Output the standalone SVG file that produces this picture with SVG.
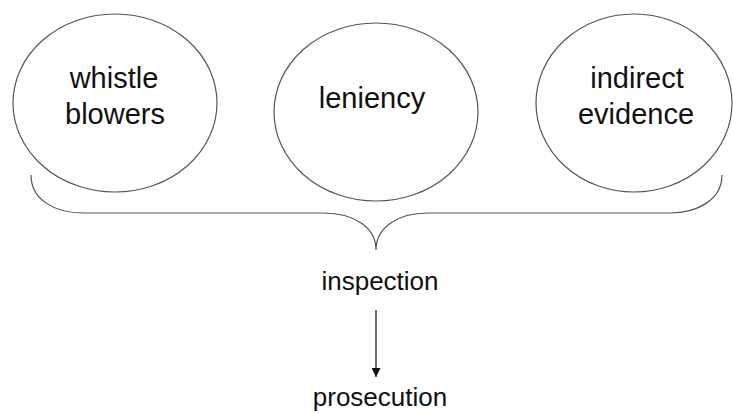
<svg xmlns="http://www.w3.org/2000/svg" width="733" height="413" viewBox="0 0 733 413">
<defs>
<style>
.node ellipse{fill:#fff;stroke:#555;stroke-width:1.2}
.t{font-family:"Liberation Sans",Arial,sans-serif;fill:#111;text-anchor:middle}
.big{font-size:29px}
.small{font-size:26px}
.conn{fill:none;stroke:#555;stroke-width:1.2}
</style>
<marker id="ah" viewBox="0 0 10 10" refX="10" refY="5" markerWidth="9" markerHeight="9" markerUnits="userSpaceOnUse" orient="auto">
<path d="M0,0 L10,5 L0,10 z" fill="#111"/>
</marker>
</defs>
<rect width="733" height="413" fill="#fff"/>
<g id="whistle-blowers" class="node">
<ellipse cx="115" cy="103" rx="102" ry="89"/>
<text class="t big" x="114" y="88">whistle</text>
<text class="t big" x="115" y="124">blowers</text>
</g>
<g id="leniency" class="node">
<ellipse cx="376" cy="112" rx="102" ry="89"/>
<text class="t big" x="372" y="108">leniency</text>
</g>
<g id="indirect-evidence" class="node">
<ellipse cx="634" cy="103" rx="98" ry="89"/>
<text class="t big" x="637" y="88">indirect</text>
<text class="t big" x="636" y="124">evidence</text>
</g>
<g id="inspection">
<text class="t small" x="380" y="290">inspection</text>
</g>
<g id="prosecution">
<text class="t small" x="380" y="406">prosecution</text>
</g>
<g id="connectors">
<path class="conn" d="M31,175 C31,200 55,213 83,213 L323,213 C355,213 376,228 376,250 C376,228 397,213 428,213 L670,213 C697,213 722,200 722,175"/>
<line x1="376" y1="310" x2="376" y2="377" stroke="#111" stroke-width="1.2" marker-end="url(#ah)"/>
</g>
</svg>
